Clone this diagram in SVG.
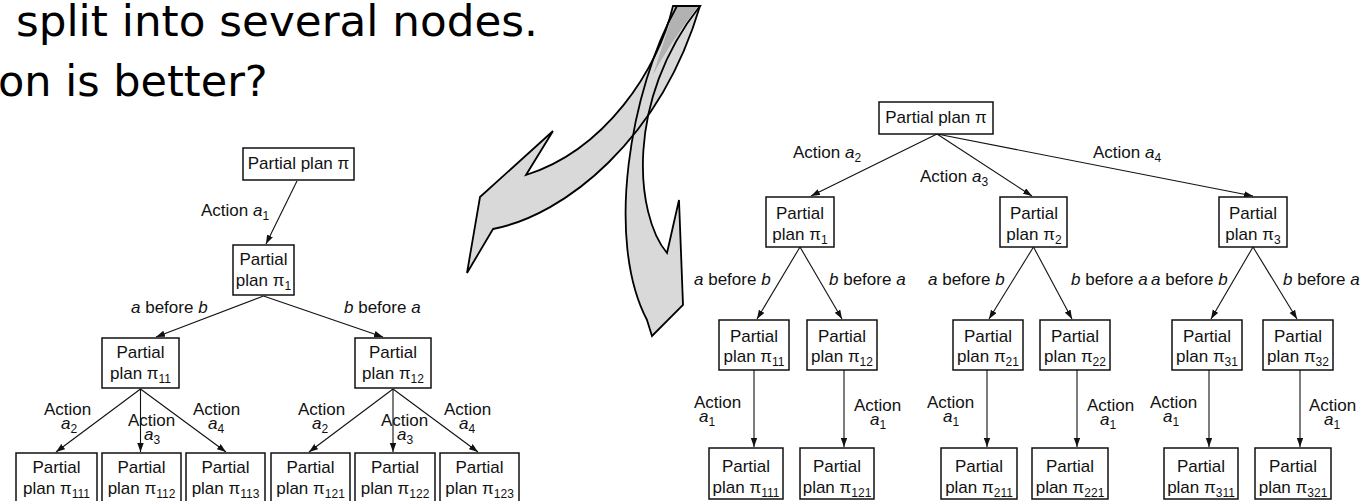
<svg xmlns="http://www.w3.org/2000/svg" width="1365" height="501" viewBox="0 0 1365 501">
  <style>
    .title { font-family: "DejaVu Sans", Verdana, sans-serif; font-size: 43px; fill: #000; }
    .lbl { font-family: "Liberation Sans", Arial, Helvetica, sans-serif; font-size: 17px; fill: #111; }
    .mid { text-anchor: middle; }
    .i { font-style: italic; }
    .sub { font-size: 12px; }
    .box { fill: #fff; stroke: #111; stroke-width: 1.5; }
    .edge { fill: none; stroke: #111; stroke-width: 1.1; marker-end: url(#ah); }
    .arrow-fill { fill: #d9d9d9; stroke: none; }
    .arrow-back { fill: #b2b2b2; stroke: none; }
    .arrow-line { fill: none; stroke: #000; stroke-width: 1.8; stroke-linejoin: miter; }
  </style>
  <defs>
    <marker id="ah" markerUnits="userSpaceOnUse" markerWidth="10" markerHeight="7" refX="9" refY="3.2" orient="auto">
      <path d="M0,0 L9,3.2 L0,6.4 z" fill="#111"/>
    </marker>
    <path id="curve-left" d="M673,6 C658,70 605,150 526,175 L553,131 L480,197 L467,273 L493,229 C565,215 660,140 700,6 Z"/>
    <path id="curve-down" d="M677,6 C630,90 605,240 647,320 L652,336 L683,305 L679,200 L667,253 C635,215 625,100 700,6 Z"/>
  </defs>
  <rect width="1365" height="501" fill="#fff"/>

  <!-- heading text -->
  <g id="heading">
    <text class="title" x="16" y="36" textLength="522" lengthAdjust="spacingAndGlyphs">split into several nodes.</text>
    <text class="title" x="-2" y="96">on is better?</text>
  </g>

  <!-- two curved block arrows: fills, the darker twisted part, then outlines -->
  <g id="curved-arrows">
    <use href="#curve-left" class="arrow-fill"/>
    <use href="#curve-down" class="arrow-fill"/>
    <path class="arrow-back" d="M675,6 C668,30 660,52 653,75 C666,50 682,28 698,6 Z"/>
    <use href="#curve-left" class="arrow-line"/>
    <use href="#curve-down" class="arrow-line"/>
  </g>

  <!-- connectors -->
  <g id="connectors">
    <!-- left tree -->
    <line class="edge" x1="297" y1="181" x2="266" y2="244"/>
    <line class="edge" x1="263.5" y1="296" x2="156" y2="337"/>
    <line class="edge" x1="263.5" y1="296" x2="383" y2="337"/>
    <line class="edge" x1="140.5" y1="389" x2="56" y2="452"/>
    <line class="edge" x1="140.5" y1="389" x2="140.5" y2="452"/>
    <line class="edge" x1="140.5" y1="389" x2="226" y2="452"/>
    <line class="edge" x1="393" y1="389" x2="309" y2="452"/>
    <line class="edge" x1="393" y1="389" x2="393" y2="452"/>
    <line class="edge" x1="393" y1="389" x2="478" y2="452"/>
    <!-- right tree -->
    <line class="edge" x1="937" y1="134" x2="811" y2="196"/>
    <line class="edge" x1="937" y1="134" x2="1032" y2="196"/>
    <line class="edge" x1="937" y1="134" x2="1253" y2="196"/>
    <line class="edge" x1="800" y1="247" x2="757" y2="319"/>
    <line class="edge" x1="800" y1="247" x2="842" y2="319"/>
    <line class="edge" x1="1033.5" y1="247" x2="989" y2="319"/>
    <line class="edge" x1="1033.5" y1="247" x2="1072" y2="319"/>
    <line class="edge" x1="1253" y1="247" x2="1211" y2="319"/>
    <line class="edge" x1="1253" y1="247" x2="1297" y2="319"/>
    <line class="edge" x1="754" y1="370" x2="754" y2="447"/>
    <line class="edge" x1="844" y1="370" x2="844" y2="447"/>
    <line class="edge" x1="987" y1="370" x2="987" y2="447"/>
    <line class="edge" x1="1077" y1="370" x2="1077" y2="447"/>
    <line class="edge" x1="1209" y1="370" x2="1209" y2="447"/>
    <line class="edge" x1="1300" y1="370" x2="1300" y2="447"/>
  </g>

  <!-- connector labels -->
  <g id="edge-labels" class="lbl">
    <!-- left tree -->
    <text x="201" y="216">Action <tspan class="i">a</tspan><tspan class="sub" dy="4">1</tspan></text>
    <text x="131" y="313"><tspan class="i">a</tspan> before <tspan class="i">b</tspan></text>
    <text x="344" y="313"><tspan class="i">b</tspan> before <tspan class="i">a</tspan></text>
    <text x="44" y="415">Action</text>
    <text x="61" y="429"><tspan class="i">a</tspan><tspan class="sub" dy="4">2</tspan></text>
    <text x="128" y="426">Action</text>
    <text x="144" y="440"><tspan class="i">a</tspan><tspan class="sub" dy="4">3</tspan></text>
    <text x="193" y="415">Action</text>
    <text x="208" y="429"><tspan class="i">a</tspan><tspan class="sub" dy="4">4</tspan></text>
    <text x="298" y="415">Action</text>
    <text x="312" y="429"><tspan class="i">a</tspan><tspan class="sub" dy="4">2</tspan></text>
    <text x="381" y="426">Action</text>
    <text x="397" y="440"><tspan class="i">a</tspan><tspan class="sub" dy="4">3</tspan></text>
    <text x="444" y="415">Action</text>
    <text x="459" y="429"><tspan class="i">a</tspan><tspan class="sub" dy="4">4</tspan></text>
    <!-- right tree -->
    <text x="793" y="158">Action <tspan class="i">a</tspan><tspan class="sub" dy="4">2</tspan></text>
    <text x="920" y="182">Action <tspan class="i">a</tspan><tspan class="sub" dy="4">3</tspan></text>
    <text x="1093" y="158">Action <tspan class="i">a</tspan><tspan class="sub" dy="4">4</tspan></text>
    <text x="694" y="285"><tspan class="i">a</tspan> before <tspan class="i">b</tspan></text>
    <text x="829" y="285"><tspan class="i">b</tspan> before <tspan class="i">a</tspan></text>
    <text x="928" y="285"><tspan class="i">a</tspan> before <tspan class="i">b</tspan></text>
    <text x="1071" y="285"><tspan class="i">b</tspan> before <tspan class="i">a</tspan></text>
    <text x="1151" y="285"><tspan class="i">a</tspan> before <tspan class="i">b</tspan></text>
    <text x="1283" y="285"><tspan class="i">b</tspan> before <tspan class="i">a</tspan></text>
    <text x="694" y="408">Action</text>
    <text x="699" y="422"><tspan class="i">a</tspan><tspan class="sub" dy="4">1</tspan></text>
    <text x="854" y="411">Action</text>
    <text x="870" y="425"><tspan class="i">a</tspan><tspan class="sub" dy="4">1</tspan></text>
    <text x="927" y="408">Action</text>
    <text x="943" y="422"><tspan class="i">a</tspan><tspan class="sub" dy="4">1</tspan></text>
    <text x="1087" y="411">Action</text>
    <text x="1100" y="425"><tspan class="i">a</tspan><tspan class="sub" dy="4">1</tspan></text>
    <text x="1150" y="408">Action</text>
    <text x="1163" y="422"><tspan class="i">a</tspan><tspan class="sub" dy="4">1</tspan></text>
    <text x="1309" y="411">Action</text>
    <text x="1324" y="425"><tspan class="i">a</tspan><tspan class="sub" dy="4">1</tspan></text>
  </g>

  <!-- left tree nodes -->
  <g id="L-pi">
    <rect class="box" x="243" y="148" width="111" height="32"/>
    <text class="lbl mid" x="298.5" y="169">Partial plan π</text>
  </g>
  <g id="L-pi1">
    <rect class="box" x="233" y="245" width="61" height="50"/>
    <text class="lbl mid" x="263.5" y="265">Partial</text>
    <text class="lbl mid" x="263.5" y="286">plan π<tspan class="sub" dy="4">1</tspan></text>
  </g>
  <g id="L-pi11">
    <rect class="box" x="102" y="338" width="77" height="50"/>
    <text class="lbl mid" x="140.5" y="358">Partial</text>
    <text class="lbl mid" x="140.5" y="379">plan π<tspan class="sub" dy="4">11</tspan></text>
  </g>
  <g id="L-pi12">
    <rect class="box" x="355" y="338" width="76" height="50"/>
    <text class="lbl mid" x="393" y="358">Partial</text>
    <text class="lbl mid" x="393" y="379">plan π<tspan class="sub" dy="4">12</tspan></text>
  </g>
  <g id="L-pi111">
    <rect class="box" x="16" y="453" width="81" height="52"/>
    <text class="lbl mid" x="56.5" y="473">Partial</text>
    <text class="lbl mid" x="56.5" y="494">plan π<tspan class="sub" dy="4">111</tspan></text>
  </g>
  <g id="L-pi112">
    <rect class="box" x="102" y="453" width="79" height="52"/>
    <text class="lbl mid" x="141.5" y="473">Partial</text>
    <text class="lbl mid" x="141.5" y="494">plan π<tspan class="sub" dy="4">112</tspan></text>
  </g>
  <g id="L-pi113">
    <rect class="box" x="186" y="453" width="79" height="52"/>
    <text class="lbl mid" x="225.5" y="473">Partial</text>
    <text class="lbl mid" x="225.5" y="494">plan π<tspan class="sub" dy="4">113</tspan></text>
  </g>
  <g id="L-pi121">
    <rect class="box" x="271" y="453" width="79" height="52"/>
    <text class="lbl mid" x="310.5" y="473">Partial</text>
    <text class="lbl mid" x="310.5" y="494">plan π<tspan class="sub" dy="4">121</tspan></text>
  </g>
  <g id="L-pi122">
    <rect class="box" x="355" y="453" width="80" height="52"/>
    <text class="lbl mid" x="395" y="473">Partial</text>
    <text class="lbl mid" x="395" y="494">plan π<tspan class="sub" dy="4">122</tspan></text>
  </g>
  <g id="L-pi123">
    <rect class="box" x="440" y="453" width="79" height="52"/>
    <text class="lbl mid" x="479.5" y="473">Partial</text>
    <text class="lbl mid" x="479.5" y="494">plan π<tspan class="sub" dy="4">123</tspan></text>
  </g>

  <!-- right tree nodes -->
  <g id="R-pi">
    <rect class="box" x="879" y="102" width="114" height="32"/>
    <text class="lbl mid" x="936" y="123">Partial plan π</text>
  </g>
  <g id="R-pi1">
    <rect class="box" x="766" y="197" width="68" height="50"/>
    <text class="lbl mid" x="800" y="219">Partial</text>
    <text class="lbl mid" x="800" y="240">plan π<tspan class="sub" dy="4">1</tspan></text>
  </g>
  <g id="R-pi2">
    <rect class="box" x="1000" y="197" width="67" height="50"/>
    <text class="lbl mid" x="1034" y="219">Partial</text>
    <text class="lbl mid" x="1034" y="240">plan π<tspan class="sub" dy="4">2</tspan></text>
  </g>
  <g id="R-pi3">
    <rect class="box" x="1219" y="197" width="68" height="50"/>
    <text class="lbl mid" x="1253" y="219">Partial</text>
    <text class="lbl mid" x="1253" y="240">plan π<tspan class="sub" dy="4">3</tspan></text>
  </g>
  <g id="R-pi11">
    <rect class="box" x="719" y="320" width="70" height="50"/>
    <text class="lbl mid" x="754" y="342">Partial</text>
    <text class="lbl mid" x="754" y="362">plan π<tspan class="sub" dy="4">11</tspan></text>
  </g>
  <g id="R-pi12">
    <rect class="box" x="807" y="320" width="70" height="50"/>
    <text class="lbl mid" x="842" y="342">Partial</text>
    <text class="lbl mid" x="842" y="362">plan π<tspan class="sub" dy="4">12</tspan></text>
  </g>
  <g id="R-pi21">
    <rect class="box" x="953" y="320" width="70" height="50"/>
    <text class="lbl mid" x="988" y="342">Partial</text>
    <text class="lbl mid" x="988" y="362">plan π<tspan class="sub" dy="4">21</tspan></text>
  </g>
  <g id="R-pi22">
    <rect class="box" x="1040" y="320" width="70" height="50"/>
    <text class="lbl mid" x="1075" y="342">Partial</text>
    <text class="lbl mid" x="1075" y="362">plan π<tspan class="sub" dy="4">22</tspan></text>
  </g>
  <g id="R-pi31">
    <rect class="box" x="1172" y="320" width="70" height="50"/>
    <text class="lbl mid" x="1207" y="342">Partial</text>
    <text class="lbl mid" x="1207" y="362">plan π<tspan class="sub" dy="4">31</tspan></text>
  </g>
  <g id="R-pi32">
    <rect class="box" x="1263" y="320" width="70" height="50"/>
    <text class="lbl mid" x="1298" y="342">Partial</text>
    <text class="lbl mid" x="1298" y="362">plan π<tspan class="sub" dy="4">32</tspan></text>
  </g>
  <g id="R-pi111">
    <rect class="box" x="709" y="448" width="74" height="51"/>
    <text class="lbl mid" x="746" y="472">Partial</text>
    <text class="lbl mid" x="746" y="493">plan π<tspan class="sub" dy="4">111</tspan></text>
  </g>
  <g id="R-pi121">
    <rect class="box" x="800" y="448" width="74" height="51"/>
    <text class="lbl mid" x="837" y="472">Partial</text>
    <text class="lbl mid" x="837" y="493">plan π<tspan class="sub" dy="4">121</tspan></text>
  </g>
  <g id="R-pi211">
    <rect class="box" x="941" y="448" width="76" height="51"/>
    <text class="lbl mid" x="979" y="472">Partial</text>
    <text class="lbl mid" x="979" y="493">plan π<tspan class="sub" dy="4">211</tspan></text>
  </g>
  <g id="R-pi221">
    <rect class="box" x="1032" y="448" width="76" height="51"/>
    <text class="lbl mid" x="1070" y="472">Partial</text>
    <text class="lbl mid" x="1070" y="493">plan π<tspan class="sub" dy="4">221</tspan></text>
  </g>
  <g id="R-pi311">
    <rect class="box" x="1164" y="448" width="74" height="51"/>
    <text class="lbl mid" x="1201" y="472">Partial</text>
    <text class="lbl mid" x="1201" y="493">plan π<tspan class="sub" dy="4">311</tspan></text>
  </g>
  <g id="R-pi321">
    <rect class="box" x="1255" y="448" width="76" height="51"/>
    <text class="lbl mid" x="1293" y="472">Partial</text>
    <text class="lbl mid" x="1293" y="493">plan π<tspan class="sub" dy="4">321</tspan></text>
  </g>
</svg>
